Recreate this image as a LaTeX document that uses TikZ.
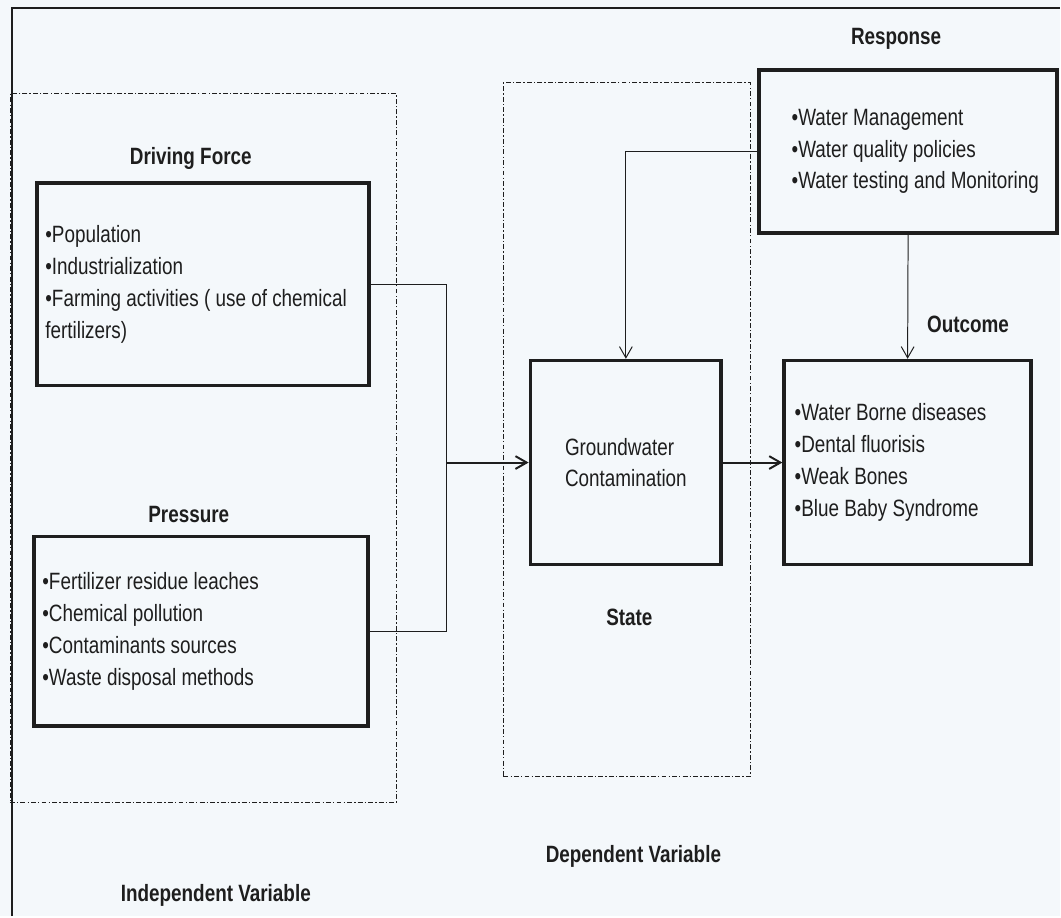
\documentclass[tikz,border=0pt]{standalone}
\usepackage{fontspec}
\setmainfont{Liberation Sans}[FakeStretch=0.8]
\usepackage{xcolor}
\usepackage{tikz}
\usetikzlibrary{positioning,arrows.meta}

\definecolor{ink}{HTML}{1E1E1E}
\definecolor{paper}{HTML}{F4F8FB}

\begin{document}
\begin{tikzpicture}[
    x=0.025cm, y=-0.025cm,
    >={Straight Barb[length=0.28cm,width=0.32cm]},
    every node/.style={font=\fontsize{16.8pt}{22.7pt}\selectfont, text=ink},
    dpsir/.style={
        draw=ink,
        line width=2.6pt,
        inner sep=0pt
    },
    items/.style={align=left, inner sep=0pt},
    heading/.style={font=\fontsize{16.8pt}{22.7pt}\selectfont\bfseries},
    group/.style={
        draw=ink,
        line width=0.6pt,
        dash pattern=on 3.5pt off 1.5pt on 1pt off 1.5pt,
        inner sep=0pt
    },
    link/.style={draw=ink, line width=0.7pt},
    flow/.style={draw=ink, line width=1.4pt}
]

% Page
\fill[paper] (0,0) rectangle (1061,917);
\draw[ink, line width=1.5pt] (12,917) -- (12,8) -- (1061,8);

% Variable groups
\node[group, minimum width=9.675cm, minimum height=17.725cm] (indep) at (203.5,448.5) {};
\node[group, minimum width=6.175cm, minimum height=17.35cm] (dep) at (627.5,430) {};

% Define boxes
\node[dpsir, minimum width=8.3cm, minimum height=5.075cm] (drive) at (203,284.5) {};
\node[dpsir, minimum width=8.35cm, minimum height=4.75cm] (press) at (201,632) {};
\node[dpsir, minimum width=4.775cm, minimum height=5.1cm, align=left] (state) at (626.5,463) {Groundwater\\Contamination};
\node[dpsir, minimum width=7.45cm, minimum height=4.075cm] (resp) at (909,151.5) {};
\node[dpsir, minimum width=6.175cm, minimum height=5.1cm] (outc) at (908.5,463) {};

% Headings
\node[heading] (drivehead) at (191,159) {Driving Force};
\node[heading] (presshead) at (189,515) {Pressure};
\node[heading] (statehead) at (630,618) {State};
\node[heading] (resphead) at (897,39) {Response};
\node[heading] (outchead) at (969,325) {Outcome};
\node[heading] (dephead) at (634,857) {Dependent Variable};
\node[heading] (indephead) at (216,896) {Independent Variable};

% Lists
\node[items, right=0.25cm of drive.west] (drivelist) {•Population\\•Industrialization\\•Farming activities ( use of chemical\\fertilizers)};
\node[items, right=0.25cm of press.west] (presslist) {•Fertilizer residue leaches\\•Chemical pollution\\•Contaminants sources\\•Waste disposal methods};
\node[items, right=0.85cm of resp.west] (resplist) {•Water Management\\•Water quality policies\\•Water testing and Monitoring};
\node[items, right=0.3cm of outc.west] (outclist) {•Water Borne diseases\\•Dental fluorisis\\•Weak Bones\\•Blue Baby Syndrome};

% Define transitions
\coordinate[left=2.05cm of state.west] (merge);
\draw[link] (drive.east) -| (merge) |- (press.east);
\draw[flow,->] (merge) -- (state.west);
\draw[flow,->] (state.east) -- (outc.west);
\draw[link,->] (resp.west) -| (state.north);
\draw[link,->] (resp.south) -- (outc.north);

\end{tikzpicture}
\end{document}
